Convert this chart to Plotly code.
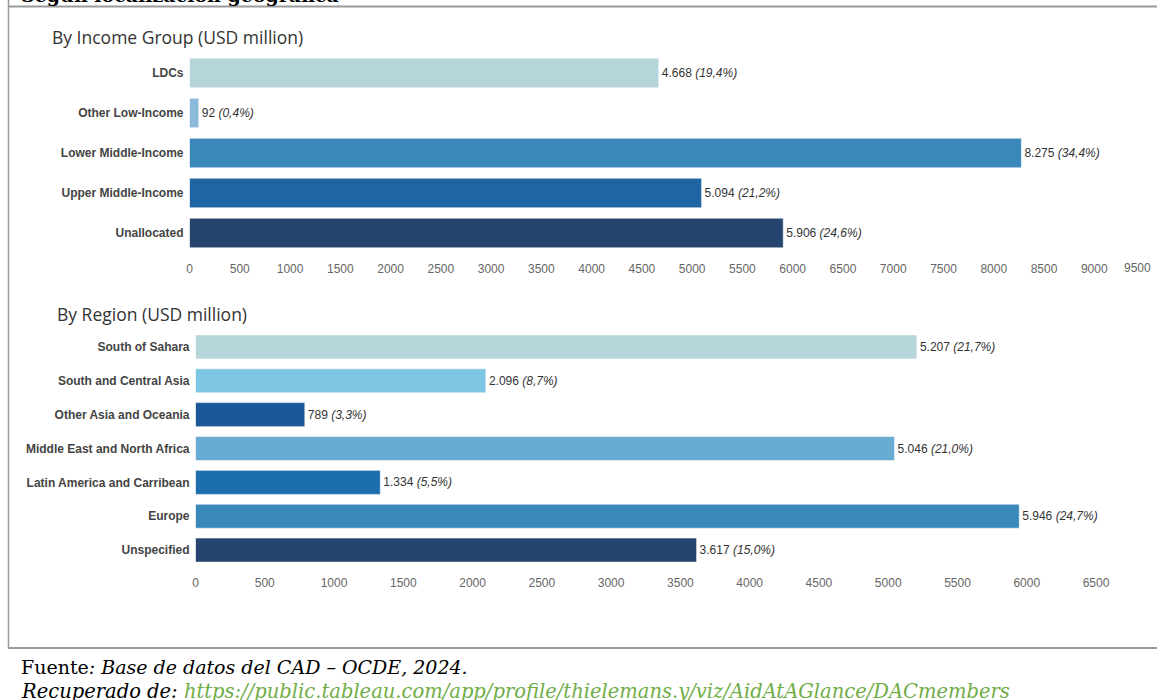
import plotly.graph_objects as go

W, H = 1157, 700

income_cats = ["LDCs", "Other Low-Income", "Lower Middle-Income", "Upper Middle-Income", "Unallocated"]
income_vals = [4668, 92, 8275, 5094, 5906]
income_pcts = ["19,4%", "0,4%", "34,4%", "21,2%", "24,6%"]
income_colors = ["#b6d5da", "#8ab9da", "#3a87b9", "#1f65a3", "#26456e"]

region_cats = ["South of Sahara", "South and Central Asia", "Other Asia and Oceania",
               "Middle East and North Africa", "Latin America and Carribean", "Europe", "Unspecified"]
region_vals = [5207, 2096, 789, 5046, 1334, 5946, 3617]
region_pcts = ["21,7%", "8,7%", "3,3%", "21,0%", "5,5%", "24,7%", "15,0%"]
region_colors = ["#b6d5da", "#7ec7e3", "#1c5797", "#68acd4", "#1c6faf", "#3a87b9", "#26456e"]

income_ticks = list(range(0, 9500, 500))
income_last_tick = 9500
region_ticks = list(range(0, 7000, 500))


def fmt(v):
    return f"{v:,}".replace(",", ".")


def px_x(p):
    return p / W


def px_y(p):
    return 1 - p / H


LABEL_FONT = "Liberation Sans, Arial, sans-serif"
NUM_FONT = "Liberation Sans, Arial, sans-serif"
TITLE_FONT = "Open Sans, Noto Sans, sans-serif"
SERIF = "DejaVu Serif, Liberation Serif, serif"

fig = go.Figure()

fig.add_trace(go.Bar(
    y=income_cats, x=income_vals, orientation="h",
    marker=dict(color=income_colors, line=dict(color="rgba(255,255,255,0.55)", width=1)),
    width=0.74,
    text=[f"{fmt(v)} <i>({p})</i>" for v, p in zip(income_vals, income_pcts)],
    textposition="outside", textfont=dict(family=NUM_FONT, size=12, color="#333333"),
    constraintext="none", cliponaxis=False,
    xaxis="x", yaxis="y", showlegend=False, hoverinfo="skip",
))

fig.add_trace(go.Bar(
    y=region_cats, x=region_vals, orientation="h",
    marker=dict(color=region_colors, line=dict(color="rgba(255,255,255,0.55)", width=1)),
    width=0.71,
    text=[f"{fmt(v)} <i>({p})</i>" for v, p in zip(region_vals, region_pcts)],
    textposition="outside", textfont=dict(family=NUM_FONT, size=12, color="#333333"),
    constraintext="none", cliponaxis=False,
    xaxis="x2", yaxis="y2", showlegend=False, hoverinfo="skip",
))

axis_common = dict(showgrid=False, zeroline=False, showline=False, fixedrange=True)
tick_font = dict(family=NUM_FONT, size=12, color="#666666")
tick_common = dict(ticks="outside", ticklen=5, tickcolor="rgba(0,0,0,0)", tickfont=tick_font)

x1_end = 9560
fig.update_layout(
    width=W, height=H,
    margin=dict(l=0, r=0, t=0, b=0),
    paper_bgcolor="white", plot_bgcolor="white",
    xaxis=dict(domain=[px_x(187), px_x(187 + x1_end * 0.10079)], range=[0, x1_end], anchor="y",
               tickvals=income_ticks, ticktext=[str(t) for t in income_ticks],
               **tick_common, **axis_common),
    yaxis=dict(domain=[px_y(253), px_y(53)], range=[4.5, -0.5], anchor="x",
               type="category", ticks="", ticklabelstandoff=5,
               tickfont=dict(family=LABEL_FONT, size=12, color="#444444", weight="bold"), **axis_common),
    xaxis2=dict(domain=[px_x(193), px_x(193 + 6750 * 0.1389)], range=[0, 6750], anchor="y2",
                tickvals=region_ticks, ticktext=[str(t) for t in region_ticks],
                **tick_common, **axis_common),
    yaxis2=dict(domain=[px_y(567), px_y(330)], range=[6.5, -0.5], anchor="x2",
                type="category", ticks="", ticklabelstandoff=5,
                tickfont=dict(family=LABEL_FONT, size=12, color="#444444", weight="bold"), **axis_common),
)

annotations = [
    dict(text="<b>Según localización geográfica</b>", x=px_x(16), y=px_y(-5), xanchor="left", yanchor="middle",
         font=dict(family=SERIF, size=19, color="#000000")),
    dict(text="By Income Group (USD million)", x=px_x(47), y=px_y(37), xanchor="left", yanchor="middle",
         font=dict(family=TITLE_FONT, size=17.5, color="#333333")),
    dict(text="By Region (USD million)", x=px_x(52), y=px_y(314), xanchor="left", yanchor="middle",
         font=dict(family=TITLE_FONT, size=17.5, color="#333333")),
    dict(text="Fuente<i>: Base de datos del CAD – OCDE, 2024.</i>", x=px_x(16), y=px_y(667),
         xanchor="left", yanchor="middle", font=dict(family=SERIF, size=19, color="#000000")),
    dict(text="<i>Recuperado de: </i><i><span style='color:#70ad47'>https://public.tableau.com/app/profile/thielemans.y/viz/AidAtAGlance/DACmembers</span></i>",
         x=px_x(16), y=px_y(691), xanchor="left", yanchor="middle",
         font=dict(family=SERIF, size=19.5, color="#000000")),
]
for a in annotations:
    a.update(xref="paper", yref="paper", showarrow=False)
# last tick label of the income axis, placed through the axis scale and nudged inside the page
annotations.append(dict(text=str(income_last_tick), x=income_last_tick, xref="x", y=px_y(268), yref="paper",
                        xanchor="center", yanchor="middle", xshift=-7, showarrow=False, font=tick_font))
fig.update_layout(annotations=annotations)

shapes = [
    dict(type="line", x0=px_x(5), x1=px_x(W), y0=px_y(6.5), y1=px_y(6.5), line=dict(color="#9a9a9a", width=2)),
    dict(type="line", x0=px_x(5.5), x1=px_x(5.5), y0=px_y(0), y1=px_y(648), line=dict(color="#9a9a9a", width=1.5)),
    dict(type="line", x0=px_x(5), x1=px_x(W), y0=px_y(648), y1=px_y(648), line=dict(color="#9a9a9a", width=2)),
]
for s in shapes:
    s.update(xref="paper", yref="paper", layer="above")
fig.update_layout(shapes=shapes)

post = "document.body.style.margin='0';document.body.style.overflow='hidden';"
fig.write_html("out.html", config={"displayModeBar": False, "staticPlot": True}, post_script=post)
